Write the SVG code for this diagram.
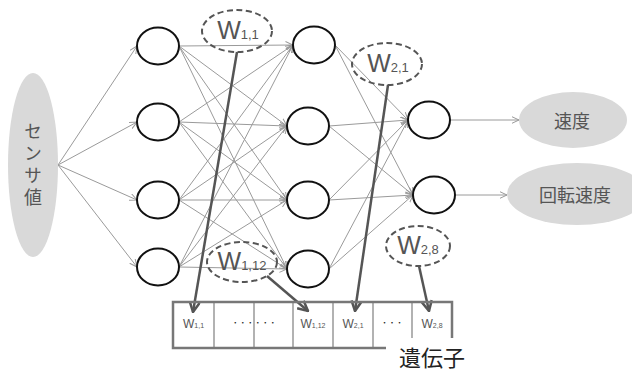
<svg xmlns="http://www.w3.org/2000/svg" width="632" height="372" viewBox="0 0 632 372">
  <style>
    .node { fill: #fff; stroke: #111; stroke-width: 2; }
    .io { fill: #d9d9d9; stroke: none; }
    .link { stroke: #9a9a9a; stroke-width: 1; fill: none; marker-end: url(#thin); }
    .ptr { stroke: #555; stroke-width: 2.5; fill: none; marker-end: url(#bold); }
    .tag { fill: none; stroke: #555; stroke-width: 2; stroke-dasharray: 6 3.5; }
    .lbl { font-family: "Liberation Sans", "Noto Sans CJK JP", sans-serif; fill: #555; }
    .jp { font-family: "Noto Sans CJK JP", "Liberation Sans", sans-serif; fill: #555; }
    .box { stroke: #777; stroke-width: 2.5; fill: none; }
    .cell { stroke: #999; stroke-width: 1.5; fill: none; }
    .dots { font-family: "Noto Sans CJK JP", sans-serif; fill: #222; }
  </style>
  <defs>
    <marker id="thin" viewBox="0 0 8 8" refX="7.5" refY="4" markerWidth="8" markerHeight="8" markerUnits="userSpaceOnUse" orient="auto">
      <path d="M0,0.5 L7.5,4 L0,7.5" fill="none" stroke="#9a9a9a" stroke-width="1"/>
    </marker>
    <marker id="bold" viewBox="0 0 12 12" refX="11" refY="6" markerWidth="12" markerHeight="12" markerUnits="userSpaceOnUse" orient="auto">
      <path d="M1,1 L11,6 L1,11" fill="none" stroke="#555" stroke-width="2.5"/>
    </marker>
  </defs>

  <!-- connectors -->
  <g id="connectors">
    <!-- sensor to input layer -->
    <line class="link" x1="58" y1="165" x2="137" y2="46"/>
    <line class="link" x1="58" y1="165" x2="137" y2="122"/>
    <line class="link" x1="58" y1="165" x2="137" y2="200"/>
    <line class="link" x1="58" y1="165" x2="137" y2="267"/>
    <!-- input layer to hidden layer -->
    <line class="link" x1="179" y1="46" x2="293" y2="45"/>
    <line class="link" x1="179" y1="46" x2="287" y2="126"/>
    <line class="link" x1="179" y1="46" x2="287" y2="200"/>
    <line class="link" x1="179" y1="46" x2="287" y2="269"/>
    <line class="link" x1="179" y1="122" x2="293" y2="45"/>
    <line class="link" x1="179" y1="122" x2="287" y2="126"/>
    <line class="link" x1="179" y1="122" x2="287" y2="200"/>
    <line class="link" x1="179" y1="122" x2="287" y2="269"/>
    <line class="link" x1="179" y1="200" x2="293" y2="45"/>
    <line class="link" x1="179" y1="200" x2="287" y2="126"/>
    <line class="link" x1="179" y1="200" x2="287" y2="200"/>
    <line class="link" x1="179" y1="200" x2="287" y2="269"/>
    <line class="link" x1="179" y1="267" x2="293" y2="45"/>
    <line class="link" x1="179" y1="267" x2="287" y2="126"/>
    <line class="link" x1="179" y1="267" x2="287" y2="200"/>
    <line class="link" x1="179" y1="267" x2="287" y2="269"/>
    <!-- hidden layer to output layer -->
    <line class="link" x1="335" y1="45" x2="408" y2="120"/>
    <line class="link" x1="335" y1="45" x2="413" y2="195"/>
    <line class="link" x1="329" y1="126" x2="408" y2="120"/>
    <line class="link" x1="329" y1="126" x2="413" y2="195"/>
    <line class="link" x1="329" y1="200" x2="408" y2="120"/>
    <line class="link" x1="329" y1="200" x2="413" y2="195"/>
    <line class="link" x1="329" y1="269" x2="408" y2="120"/>
    <line class="link" x1="329" y1="269" x2="413" y2="195"/>
    <!-- output layer to outputs -->
    <line class="link" x1="450" y1="120" x2="519" y2="120"/>
    <line class="link" x1="455" y1="195" x2="507" y2="195"/>
    <!-- weights to genome cells -->
    <line class="ptr" x1="237" y1="52" x2="193" y2="312"/>
    <line class="ptr" x1="388" y1="85" x2="355" y2="311"/>
    <line class="ptr" x1="267" y1="276" x2="308" y2="311"/>
    <line class="ptr" x1="419" y1="266" x2="429" y2="311"/>
  </g>

  <!-- sensor input -->
  <g id="sensor">
    <ellipse class="io" cx="33" cy="165" rx="25" ry="92"/>
    <text class="jp" x="33" y="166" font-size="18" text-anchor="middle" letter-spacing="4" style="writing-mode: vertical-rl">センサ値</text>
  </g>

  <!-- input layer -->
  <g id="in1"><ellipse class="node" cx="158" cy="46" rx="21" ry="18.5"/></g>
  <g id="in2"><ellipse class="node" cx="158" cy="122" rx="21" ry="18.5"/></g>
  <g id="in3"><ellipse class="node" cx="158" cy="200" rx="21" ry="18.5"/></g>
  <g id="in4"><ellipse class="node" cx="158" cy="267" rx="21" ry="18.5"/></g>

  <!-- hidden layer -->
  <g id="hid1"><ellipse class="node" cx="314" cy="45" rx="21" ry="18.5"/></g>
  <g id="hid2"><ellipse class="node" cx="308" cy="126" rx="21" ry="18.5"/></g>
  <g id="hid3"><ellipse class="node" cx="308" cy="200" rx="21" ry="18.5"/></g>
  <g id="hid4"><ellipse class="node" cx="308" cy="269" rx="21" ry="18.5"/></g>

  <!-- output layer -->
  <g id="out1"><ellipse class="node" cx="429" cy="120" rx="21" ry="18.5"/></g>
  <g id="out2"><ellipse class="node" cx="434" cy="195" rx="21" ry="18.5"/></g>

  <!-- outputs -->
  <g id="speed">
    <ellipse class="io" cx="573" cy="120" rx="54" ry="28"/>
    <text class="jp" x="572" y="128" font-size="18" text-anchor="middle">速度</text>
  </g>
  <g id="rotation">
    <ellipse class="io" cx="577" cy="194" rx="70" ry="31"/>
    <text class="jp" x="575" y="202" font-size="18" text-anchor="middle">回転速度</text>
  </g>

  <!-- weight tags -->
  <g id="w11">
    <ellipse class="tag" cx="237" cy="31" rx="35" ry="21"/>
    <text class="lbl" x="238" y="39" text-anchor="middle"><tspan font-size="25">W</tspan><tspan font-size="13">1,1</tspan></text>
  </g>
  <g id="w21">
    <ellipse class="tag" cx="387" cy="64" rx="35" ry="21"/>
    <text class="lbl" x="388" y="72" text-anchor="middle"><tspan font-size="25">W</tspan><tspan font-size="13">2,1</tspan></text>
  </g>
  <g id="w112">
    <ellipse class="tag" cx="242" cy="262" rx="35" ry="20"/>
    <text class="lbl" x="242" y="270" text-anchor="middle"><tspan font-size="25">W</tspan><tspan font-size="13">1,12</tspan></text>
  </g>
  <g id="w28">
    <ellipse class="tag" cx="418" cy="246" rx="32" ry="20"/>
    <text class="lbl" x="418" y="254" text-anchor="middle"><tspan font-size="25">W</tspan><tspan font-size="13">2,8</tspan></text>
  </g>

  <!-- genome -->
  <g id="genome">
    <path class="cell" d="M214,302 V348 M254,302 V348 M293,302 V348 M333,302 V348 M373,302 V348 M412,302 V338"/>
    <path class="box" d="M386,348 H173 V302 H452 V338"/>
    <g class="lbl" text-anchor="middle">
      <text x="193.5" y="328"><tspan font-size="12">W</tspan><tspan font-size="7">1,1</tspan></text>
      <text x="313" y="328"><tspan font-size="12">W</tspan><tspan font-size="7">1,12</tspan></text>
      <text x="353" y="328"><tspan font-size="12">W</tspan><tspan font-size="7">2,1</tspan></text>
      <text x="432" y="328"><tspan font-size="12">W</tspan><tspan font-size="7">2,8</tspan></text>
    </g>
    <g class="dots" text-anchor="middle">
      <text x="254" y="326" font-size="7.5">・・・・・・</text>
      <text x="392" y="326" font-size="7.5">・・・</text>
    </g>
    <text class="jp" x="432" y="366" font-size="22" text-anchor="middle" style="fill:#222">遺伝子</text>
  </g>
</svg>
